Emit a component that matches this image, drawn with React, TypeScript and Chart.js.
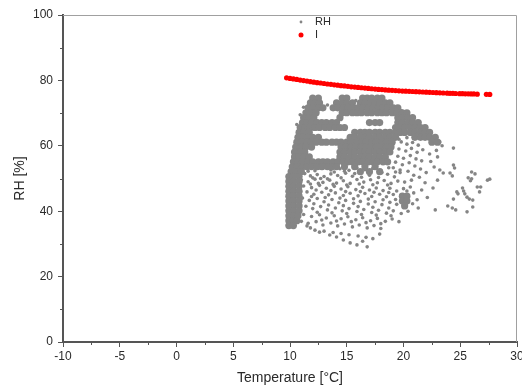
import React, { useEffect, useRef } from "react";
import { Chart, registerables } from "chart.js";

Chart.register(...registerables);

const FONT = "'Liberation Sans', Arial, Helvetica, sans-serif";

// axis ranges / ticks
const X_MIN = -10;
const X_MAX = 30;
const X_STEP = 5;
const Y_MIN = 0;
const Y_MAX = 100;
const Y_STEP = 20;
const MINOR_X = [-7.5, -2.5, 2.5, 7.5, 12.5, 17.5, 22.5, 27.5];
const MINOR_Y = [10, 30, 50, 70, 90];

const X_TITLE = "Temperature [°C]";
const Y_TITLE = "RH [%]";
const SERIES_RH = "RH";
const SERIES_I = "I";

// series "I" (red curve)
const iTemp = [
  9.7, 10.0, 10.3, 10.6, 10.9, 11.2, 11.5, 11.8, 12.1, 12.4, 12.7, 13.0, 13.3, 13.6, 13.9,
  14.2, 14.5, 14.8, 15.1, 15.4, 15.7, 16.0, 16.3, 16.6, 16.9, 17.2, 17.5, 17.8, 18.1, 18.4,
  18.7, 19.0, 19.3, 19.6, 19.9, 20.2, 20.5, 20.8, 21.1, 21.4, 21.7, 22.0, 22.3, 22.6, 22.9,
  23.2, 23.5, 23.85, 24.1, 24.35, 24.6, 24.95, 25.2, 25.45, 25.7, 25.95, 26.2, 26.5, 27.3, 27.6,
];
const iRH = [
  80.8, 80.6, 80.45, 80.3, 80.1, 79.95, 79.8, 79.6, 79.45, 79.3, 79.2, 79.05, 78.9, 78.8, 78.65,
  78.55, 78.4, 78.3, 78.2, 78.05, 77.95, 77.85, 77.75, 77.65, 77.55, 77.45, 77.35, 77.25, 77.2, 77.1,
  77.0, 76.95, 76.9, 76.8, 76.75, 76.7, 76.65, 76.6, 76.55, 76.5, 76.45, 76.4, 76.35, 76.3, 76.25,
  76.2, 76.15, 76.1, 76.05, 76.05, 76.0, 75.95, 75.95, 75.9, 75.9, 75.85, 75.85, 75.8, 75.75, 75.7,
];

// series "RH": densely packed measurements, grouped by RH level
const denseRH = [
  74.6, 73.1, 71.6, 70.1, 68.6, 67.1, 65.6, 64.1, 62.6, 61.1, 59.6, 58.1, 56.6, 55.1,
  53.6, 52.1, 50.6, 49.1, 47.6, 46.1, 44.6, 43.1, 41.6, 40.1, 38.6, 37.1, 35.6,
];
const denseTemp = [
  [12.0, 12.5, 14.6, 15.0, 16.4, 16.8, 17.2, 17.7, 18.1],
  [11.8, 12.2, 12.6, 14.1, 14.6, 15.0, 15.5, 16.2, 16.6, 17.1, 17.5, 17.9, 18.4, 18.8],
  [11.6, 12.0, 12.5, 12.9, 13.8, 14.2, 14.7, 15.1, 15.6, 16.0, 16.4, 16.9, 17.3, 17.8, 18.2, 18.6, 19.1, 19.5],
  [11.4, 11.9, 12.3, 14.6, 15.0, 15.5, 15.9, 16.3, 16.8, 17.2, 17.7, 18.1, 18.5, 19.0, 19.4, 19.9, 20.3],
  [11.2, 11.7, 12.1, 14.4, 19.5, 19.9, 20.4, 20.8],
  [11.1, 11.5, 11.9, 12.4, 12.8, 13.2, 13.7, 14.1, 17.0, 17.5, 17.9, 19.5, 19.9, 20.4, 20.8, 21.3],
  [10.9, 11.3, 11.8, 12.2, 12.6, 13.1, 13.5, 14.0, 14.4, 14.8, 19.3, 19.7, 20.1, 20.6, 21.0, 21.5, 21.9],
  [10.8, 11.2, 11.7, 15.7, 16.2, 16.6, 17.0, 17.5, 17.9, 18.4, 18.8, 19.3, 19.7, 20.1, 20.6, 21.0, 21.5, 21.9, 22.3],
  [10.7, 11.1, 11.6, 12.0, 12.5, 15.3, 15.7, 16.2, 16.6, 17.0, 17.5, 17.9, 18.4, 18.8, 19.3, 21.0, 21.5, 21.9, 22.3, 22.8],
  [10.6, 11.0, 11.5, 11.9, 12.3, 12.8, 13.2, 13.7, 14.1, 14.5, 15.0, 15.4, 15.9, 16.3, 16.7, 17.2, 17.6, 18.1, 18.5, 19.0, 22.5, 23.0],
  [10.5, 11.0, 11.4, 11.9, 14.5, 14.9, 15.4, 15.8, 16.3, 16.7, 17.1, 17.6, 18.0, 18.5, 18.9],
  [10.4, 10.9, 11.3, 14.4, 14.8, 15.3, 15.7, 16.2, 16.6, 17.0, 17.5, 17.9, 18.4, 18.8],
  [10.4, 10.8, 11.2, 11.7, 14.4, 14.8, 15.3, 15.7, 16.2, 16.6, 17.0, 17.5, 17.9, 18.4],
  [10.3, 10.7, 11.1, 11.6, 12.0, 12.5, 12.9, 13.3, 13.8, 14.2, 14.7, 15.1, 15.5, 16.0, 16.4, 16.9, 17.3, 17.7, 18.2, 18.6],
  [10.2, 10.6, 11.1, 11.5, 11.9, 12.4, 12.8, 13.3, 13.7, 14.1, 14.8, 15.7, 16.6, 17.5],
  [10.1, 10.5, 11.0, 16.2, 17.0, 17.9],
  [9.9, 10.3, 10.8],
  [9.9, 10.3, 10.8],
  [9.9, 10.3, 10.8],
  [9.9, 10.3, 10.8],
  [9.9, 10.3, 10.8, 19.9, 20.3],
  [9.9, 10.3, 10.8, 19.9, 20.3],
  [9.9, 10.3, 10.8, 20.1],
  [9.9, 10.3, 10.8],
  [9.9, 10.3, 10.7],
  [9.9, 10.3, 10.6],
  [9.9, 10.3],
];

// series "RH": scattered individual measurements [temperature, RH]
const rhScatter: [number, number][] = [
  [11.3, 51.5], [11.8, 50.8], [12.4, 51.2], [13.0, 50.6], [13.6, 51.4], [14.2, 50.9], [14.9, 51.6], [15.5, 50.7],
  [18.6, 51.3], [19.2, 50.5], [19.7, 51.8],
  [11.0, 49.6], [11.6, 49.0], [12.2, 49.8], [12.9, 48.8], [13.5, 49.5], [14.1, 48.6], [14.7, 49.3], [15.3, 48.5],
  [15.9, 49.7], [16.5, 48.9], [17.1, 49.6], [17.7, 48.7], [18.3, 49.4], [18.9, 48.5], [19.5, 49.2], [20.1, 48.9],
  [11.2, 47.7], [11.9, 47.2], [12.6, 47.9], [13.2, 47.0], [13.9, 47.6], [14.5, 46.8], [15.1, 47.5], [15.8, 46.6],
  [16.4, 47.3], [17.0, 46.5], [17.6, 47.1], [18.2, 46.3], [18.8, 47.0], [19.4, 46.2], [20.0, 46.9], [20.6, 47.4],
  [11.5, 45.9], [12.1, 45.2], [12.8, 45.8], [13.4, 45.0], [14.0, 45.6], [14.7, 44.8], [15.3, 45.5], [16.0, 44.7],
  [16.6, 45.4], [17.2, 44.5], [17.9, 45.2], [18.5, 44.4], [19.1, 45.1],
  [11.1, 44.0], [11.7, 43.3], [12.4, 43.9], [13.0, 42.9], [13.7, 43.6], [14.3, 42.6], [14.9, 43.3], [15.6, 42.4],
  [16.2, 43.0], [16.9, 42.2], [17.5, 42.9], [18.1, 42.0], [18.8, 42.7], [19.4, 42.1], [20.8, 42.3], [21.2, 43.5],
  [11.4, 41.5], [12.0, 40.8], [12.7, 41.4], [13.3, 40.4], [14.0, 41.0], [14.6, 40.1], [15.2, 40.8], [15.9, 39.9],
  [16.5, 40.5], [17.2, 39.6], [17.8, 40.3], [18.5, 39.4], [19.1, 40.1], [19.8, 39.3], [20.4, 40.0],
  [11.2, 39.0], [11.9, 38.4], [12.6, 38.9], [13.2, 37.9], [13.9, 38.6], [14.5, 37.7], [15.1, 38.3], [15.8, 37.4],
  [16.4, 38.0], [17.1, 37.1], [17.7, 37.8], [18.4, 36.9], [19.0, 37.6], [19.6, 36.8],
  [11.0, 36.9], [11.6, 36.3], [12.3, 36.8], [12.9, 35.8], [13.6, 36.4], [14.2, 35.5], [14.8, 36.1], [15.5, 35.2],
  [16.1, 35.8], [16.8, 34.9], [17.4, 35.6], [18.0, 34.7],
  [11.5, 35.5], [11.8, 34.9], [12.2, 34.2], [12.6, 33.6], [13.0, 33.9], [13.5, 32.7], [13.8, 33.5], [14.1, 32.1],
  [14.5, 33.2], [14.7, 31.2], [15.2, 32.8], [15.3, 30.3], [15.9, 29.7], [16.0, 32.4], [16.4, 30.8], [16.7, 32.0],
  [16.8, 29.1], [17.3, 31.6], [17.9, 33.0],
  [19.8, 61.2], [20.3, 60.5], [20.8, 61.0], [21.3, 60.2], [19.6, 59.0], [20.2, 58.4], [20.7, 59.2], [21.2, 58.0],
  [21.7, 58.8], [19.5, 56.8], [20.0, 56.2], [20.6, 57.0], [21.1, 56.0], [21.6, 55.4], [19.3, 55.0], [19.9, 54.2],
  [20.5, 54.8], [21.0, 53.8], [21.5, 52.9], [19.1, 53.3], [19.7, 52.6], [20.4, 52.2], [20.9, 51.0], [21.4, 50.4],
  [20.7, 49.5], [21.9, 48.7], [21.6, 46.5], [20.9, 45.6], [22.1, 44.2], [21.3, 41.0],
  [24.4, 59.3], [23.0, 56.6], [24.4, 54.1], [24.5, 53.2], [24.1, 51.7], [24.3, 50.8], [23.2, 52.6], [23.5, 51.7],
  [22.7, 53.5], [23.0, 49.5], [22.6, 47.1], [26.0, 52.0], [26.3, 51.4], [25.7, 50.2], [26.0, 49.9], [25.9, 49.3],
  [27.4, 49.5], [27.6, 49.8], [26.5, 47.4], [26.8, 47.4], [26.7, 45.9], [25.2, 47.1], [25.3, 46.2], [24.7, 45.9],
  [24.8, 45.3], [25.4, 45.3], [25.6, 44.3], [25.8, 43.7], [26.1, 43.4], [24.4, 43.7], [26.1, 41.3], [23.9, 41.6],
  [24.3, 41.0], [24.6, 40.4], [22.8, 40.4], [25.6, 39.8], [22.3, 57.5], [22.9, 58.6], [23.4, 60.0], [22.0, 51.8],
  [22.4, 55.2],
  [21.0, 66.0], [21.6, 65.2], [22.1, 64.5], [21.8, 63.4], [22.6, 62.2], [23.2, 61.2], [20.3, 62.5], [20.9, 63.3],
  [19.6, 62.0], [20.0, 63.6],
  [11.2, 71.8], [10.9, 69.5], [10.6, 66.5], [12.6, 74.2], [13.3, 72.5], [15.8, 73.8], [19.2, 71.8], [19.8, 70.8],
  [20.5, 69.0], [21.2, 67.5],
  [11.5, 53.0], [12.2, 52.4], [12.9, 53.1], [13.6, 52.6], [14.4, 53.0], [15.2, 52.5], [15.9, 53.2], [16.6, 52.7],
  [17.3, 53.1], [18.0, 52.5], [18.7, 53.3], [19.3, 52.0], [12.0, 50.2], [12.7, 50.0], [13.3, 49.9], [14.5, 50.2],
  [15.7, 51.5], [16.3, 50.4], [17.0, 51.0], [17.8, 50.3], [18.1, 51.8], [14.8, 52.2], [11.6, 52.2], [13.9, 52.0],
  [11.8, 48.3], [12.5, 48.5], [13.8, 48.2], [15.0, 48.0], [16.1, 48.3], [17.3, 48.1], [18.6, 48.0], [12.3, 46.5],
  [13.6, 46.3], [14.9, 46.0], [16.2, 46.0], [17.4, 45.8], [18.7, 45.7], [19.8, 45.0], [20.3, 46.2], [11.9, 44.5],
  [13.1, 44.2], [14.4, 44.0], [15.6, 43.8], [16.9, 43.7], [18.2, 43.5], [19.3, 43.6],
  [12.1, 42.3], [13.4, 41.9], [14.7, 41.7], [16.0, 41.4], [17.3, 41.2], [18.7, 41.0], [12.4, 39.7], [13.7, 39.5],
  [15.0, 39.3], [16.3, 39.0], [17.6, 38.8], [18.9, 38.6], [12.8, 37.3], [14.1, 37.0], [15.4, 36.8], [16.7, 36.5],
  [18.0, 36.2],
];

const GRAY = "#858585";
const RED = "#ff0000";
const AXIS = "#555555";
const TEXT = "#2a2a2a";

const decorPlugin = {
  id: "decor",
  afterDraw(chart: any) {
    const { ctx, chartArea: a, scales } = chart;
    const xs = scales.x;
    const ys = scales.y;
    ctx.save();
    // frame (top + right)
    ctx.strokeStyle = "#a0a0a0";
    ctx.lineWidth = 1;
    ctx.beginPath();
    ctx.moveTo(a.left, a.top + 0.5);
    ctx.lineTo(a.right - 0.5, a.top + 0.5);
    ctx.lineTo(a.right - 0.5, a.bottom);
    ctx.stroke();
    // minor ticks
    ctx.strokeStyle = AXIS;
    ctx.beginPath();
    for (const v of MINOR_X) {
      const px = Math.round(xs.getPixelForValue(v)) + 0.5;
      ctx.moveTo(px, a.bottom);
      ctx.lineTo(px, a.bottom + 3);
    }
    for (const v of MINOR_Y) {
      const py = Math.round(ys.getPixelForValue(v)) + 0.5;
      ctx.moveTo(a.left - 3, py);
      ctx.lineTo(a.left, py);
    }
    ctx.stroke();
    // legend
    const cx = (a.left + a.right) / 2;
    const mx = cx + 11;
    const tx = cx + 25;
    const y1 = a.top + 7;
    const y2 = a.top + 20;
    ctx.fillStyle = GRAY;
    ctx.beginPath();
    ctx.arc(mx, y1, 1.4, 0, Math.PI * 2);
    ctx.fill();
    ctx.fillStyle = RED;
    ctx.beginPath();
    ctx.arc(mx, y2, 2.5, 0, Math.PI * 2);
    ctx.fill();
    ctx.fillStyle = TEXT;
    ctx.font = `11px ${FONT}`;
    ctx.textBaseline = "middle";
    ctx.textAlign = "left";
    ctx.fillText(SERIES_RH, tx, y1);
    ctx.fillText(SERIES_I, tx, y2);
    ctx.restore();
  },
};

export default function App() {
  const ref = useRef<HTMLCanvasElement | null>(null);

  useEffect(() => {
    if (!ref.current) return;
    const densePoints = denseRH.flatMap((rh, i) => denseTemp[i].map((t) => ({ x: t, y: rh })));
    const scatterPoints = rhScatter.map(([t, rh]) => ({ x: t, y: rh }));
    const iPoints = iTemp.map((t, i) => ({ x: t, y: iRH[i] }));

    const chart = new Chart(ref.current, {
      type: "scatter",
      data: {
        datasets: [
          {
            label: SERIES_RH,
            data: densePoints,
            backgroundColor: GRAY,
            borderWidth: 0,
            pointRadius: 3.6,
            pointHoverRadius: 3.6,
          },
          {
            label: SERIES_RH,
            data: scatterPoints,
            backgroundColor: GRAY,
            borderWidth: 0,
            pointRadius: 1.8,
            pointHoverRadius: 1.8,
          },
          {
            label: SERIES_I,
            data: iPoints,
            backgroundColor: RED,
            borderWidth: 0,
            pointRadius: 2.6,
            pointHoverRadius: 2.6,
          },
        ],
      },
      options: {
        animation: false,
        responsive: false,
        maintainAspectRatio: false,
        events: [],
        layout: { padding: { top: 15, right: 5, bottom: 0, left: 0 } },
        plugins: {
          legend: { display: false },
          tooltip: { enabled: false },
        },
        scales: {
          x: {
            type: "linear",
            min: X_MIN,
            max: X_MAX,
            afterFit: (s: any) => {
              s.height = 45;
              s.paddingLeft = 0;
              s.paddingRight = 0;
            },
            ticks: {
              stepSize: X_STEP,
              maxRotation: 0,
              autoSkip: false,
              padding: 2,
              color: TEXT,
              font: { family: FONT, size: 12 },
            },
            grid: {
              drawOnChartArea: false,
              drawTicks: true,
              tickLength: 5,
              tickColor: AXIS,
              tickWidth: 1,
            },
            border: { display: true, color: AXIS, width: 2 },
            title: {
              display: true,
              text: X_TITLE,
              color: TEXT,
              font: { family: FONT, size: 14 },
              padding: { top: 0, bottom: 0 },
            },
          },
          y: {
            type: "linear",
            min: Y_MIN,
            max: Y_MAX,
            afterFit: (s: any) => {
              s.width = 63;
              s.paddingTop = 0;
              s.paddingBottom = 0;
            },
            ticks: {
              stepSize: Y_STEP,
              padding: 5,
              color: TEXT,
              font: { family: FONT, size: 12 },
            },
            grid: {
              drawOnChartArea: false,
              drawTicks: true,
              tickLength: 5,
              tickColor: AXIS,
              tickWidth: 1,
            },
            border: { display: true, color: AXIS, width: 2 },
            title: {
              display: true,
              text: Y_TITLE,
              color: TEXT,
              font: { family: FONT, size: 14 },
              padding: { top: 12, bottom: 0 },
            },
          },
        },
      },
      plugins: [decorPlugin],
    });
    return () => chart.destroy();
  }, []);

  return (
    <div style={{ position: "fixed", left: 0, top: 0, width: 522, height: 387, background: "#fff" }}>
      <canvas ref={ref} width={522} height={387} style={{ width: 522, height: 387, display: "block" }} />
    </div>
  );
}
